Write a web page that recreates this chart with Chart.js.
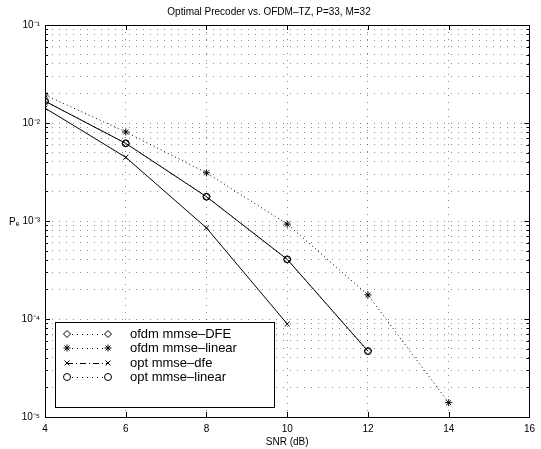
<!DOCTYPE html>
<html>
<head>
<meta charset="utf-8">
<script src="https://cdn.jsdelivr.net/npm/chart.js@4/dist/chart.umd.min.js"></script>
<style>
html,body{margin:0;padding:0;background:#fff;}
#wrap{width:541px;height:449px;position:relative;}
</style>
</head>
<body>
<div id="wrap"><canvas id="c" width="541" height="449"></canvas></div>
<script>
const snr = [4, 6, 8, 10, 12, 14];
const ofdmDFE    = [1.67e-2, 6.2e-3, 1.77e-3, 4.06e-4, 4.7e-5, null];
const ofdmLinear = [1.93e-2, 8.1e-3, 3.1e-3, 9.3e-4, 1.76e-4, 1.4e-5];
const optDFE     = [1.42e-2, 4.47e-3, 8.5e-4, 8.9e-5, null, null];
const optLinear  = [1.67e-2, 6.2e-3, 1.77e-3, 4.06e-4, 4.7e-5, null];
const xTicks = [4, 6, 8, 10, 12, 14, 16];
const yDecades = [1e-5, 1e-4, 1e-3, 1e-2, 1e-1];
const yDecadeLabels = ['10\u207B\u2075', '10\u207B\u2074', '10\u207B\u00B3', '10\u207B\u00B2', '10\u207B\u00B9'];
const legendLabels = ['ofdm mmse\u2013DFE', 'ofdm mmse\u2013linear', 'opt mmse\u2013dfe', 'opt mmse\u2013linear'];
const titleText = 'Optimal Precoder vs. OFDM\u2013TZ, P=33, M=32';
const xTitle = 'SNR (dB)';
const yTitle = 'P\u2091';

const pts = arr => snr.map((x, i) => ({x: x, y: arr[i]})).filter(p => p.y !== null);

const styles = [
  {pointStyle: 'rectRot', dash: [1, 3], radius: 3.5},
  {pointStyle: 'star', dash: [1, 3], radius: 3.5},
  {pointStyle: 'crossRot', dash: [], radius: 3.5},
  {pointStyle: 'circle', dash: [], radius: 3.5}
];
const seriesData = [ofdmDFE, ofdmLinear, optDFE, optLinear];

const datasets = seriesData.map((arr, i) => ({
  label: legendLabels[i],
  data: pts(arr),
  borderColor: '#000',
  backgroundColor: 'rgba(0,0,0,0)',
  borderWidth: 1,
  borderDash: styles[i].dash,
  pointStyle: styles[i].pointStyle,
  pointRadius: styles[i].radius,
  pointBorderColor: '#000',
  pointBackgroundColor: styles[i].pointStyle === 'star' ? '#000' : 'rgba(0,0,0,0)',
  pointBorderWidth: 1,
  tension: 0
}));

const boxPlugin = {
  id: 'boxPlugin',
  afterDraw(chart) {
    const ctx = chart.ctx, a = chart.chartArea;
    ctx.save();
    ctx.strokeStyle = '#000';
    ctx.lineWidth = 1;
    ctx.setLineDash([]);
    ctx.strokeRect(Math.round(a.left) + 0.5, Math.round(a.top) + 0.5, Math.round(a.right - a.left), Math.round(a.bottom - a.top));
    const xs = chart.scales.x, ys = chart.scales.y;
    ctx.beginPath();
    xTicks.forEach(v => {
      const px = Math.round(xs.getPixelForValue(v)) + 0.5;
      ctx.moveTo(px, a.bottom); ctx.lineTo(px, a.bottom - 5);
      ctx.moveTo(px, a.top); ctx.lineTo(px, a.top + 5);
    });
    ys.ticks.forEach(t => {
      const py = Math.round(ys.getPixelForValue(t.value)) + 0.5;
      const len = yDecades.some(d => Math.abs(d - t.value) / d < 1e-6) ? 5 : 3;
      ctx.moveTo(a.left, py); ctx.lineTo(a.left + len, py);
      ctx.moveTo(a.right, py); ctx.lineTo(a.right - len, py);
    });
    ctx.stroke();
    ctx.fillStyle = '#000';
    ctx.font = '10px "Liberation Sans", Arial, sans-serif';
    ctx.textAlign = 'left';
    ctx.textBaseline = 'middle';
    ctx.fillText(yTitle, 9, ys.getPixelForValue(1e-3) + 1);

    // legend
    const lx = 55, ly = 322, lw = 219, lh = 85;
    ctx.fillStyle = '#fff';
    ctx.fillRect(lx, ly, lw, lh);
    ctx.strokeStyle = '#000';
    ctx.strokeRect(lx + 0.5, ly + 0.5, lw, lh);
    ctx.font = '13px "Liberation Sans", Arial, sans-serif';
    const rows = [334, 348, 363, 377];
    const legendDash = [[1, 4], [1, 4], [6, 3, 1, 3], [1, 4]];
    rows.forEach((ry, i) => {
      ctx.beginPath();
      ctx.setLineDash(legendDash[i]);
      ctx.moveTo(67, ry + 0.5); ctx.lineTo(108, ry + 0.5);
      ctx.stroke();
      ctx.setLineDash([]);
      [67, 108].forEach(mx => {
        ctx.fillStyle = styles[i].pointStyle === 'star' ? '#000' : '#fff';
        ctx.strokeStyle = '#000';
        ctx.lineWidth = 1;
        Chart.helpers.drawPoint(ctx, {pointStyle: styles[i].pointStyle, radius: 3.5, rotation: 0, borderWidth: 1}, mx, ry);
      });
      ctx.fillStyle = '#000';
      ctx.textAlign = 'left';
      ctx.textBaseline = 'middle';
      ctx.fillText(legendLabels[i], 130, ry);
    });
    ctx.restore();
  }
};

new Chart(document.getElementById('c'), {
  type: 'line',
  data: {datasets: datasets},
  options: {
    responsive: false,
    animation: false,
    devicePixelRatio: 1,
    layout: {padding: {left: 0, right: 3, top: 0, bottom: 0}},
    plugins: {
      legend: {display: false},
      tooltip: {enabled: false},
      title: {
        display: true,
        text: titleText,
        color: '#000',
        font: {family: '"Liberation Sans", Arial, sans-serif', size: 10, weight: 'normal'},
        padding: {top: 6, bottom: 7}
      }
    },
    scales: {
      x: {
        type: 'linear',
        min: 4, max: 16,
        afterBuildTicks: s => { s.ticks = xTicks.map(v => ({value: v})); },
        afterFit: s => { s.height = 32; },
        ticks: {color: '#000', font: {family: '"Liberation Sans", Arial, sans-serif', size: 10}, padding: 6, maxRotation: 0},
        grid: {color: 'rgba(0,0,0,0.45)', drawTicks: false, lineWidth: 1},
        border: {display: false, dash: [1, 6]},
        title: {display: true, text: xTitle, color: '#000', font: {family: '"Liberation Sans", Arial, sans-serif', size: 10}, padding: {top: 0, bottom: 1}}
      },
      y: {
        type: 'logarithmic',
        min: 1e-5, max: 1e-1,
        afterBuildTicks: s => {
          const t = [];
          for (let e = -5; e <= -1; e++) {
            for (let m = 1; m <= 9; m++) {
              const v = m * Math.pow(10, e);
              if (v <= 1e-1 * 1.0000001) t.push({value: v});
            }
          }
          s.ticks = t;
        },
        afterFit: s => { s.width = 45; },
        ticks: {
          color: '#000',
          font: {family: '"Liberation Sans", Arial, sans-serif', size: 10},
          padding: 5,
          autoSkip: false,
          callback: function(v) {
            const idx = yDecades.findIndex(d => Math.abs(d - v) / d < 1e-6);
            return idx >= 0 ? yDecadeLabels[idx] : '';
          }
        },
        grid: {color: 'rgba(0,0,0,0.45)', drawTicks: false, lineWidth: 1},
        border: {display: false, dash: [1, 6]}
      }
    }
  },
  plugins: [boxPlugin]
});
</script>
</body>
</html>
